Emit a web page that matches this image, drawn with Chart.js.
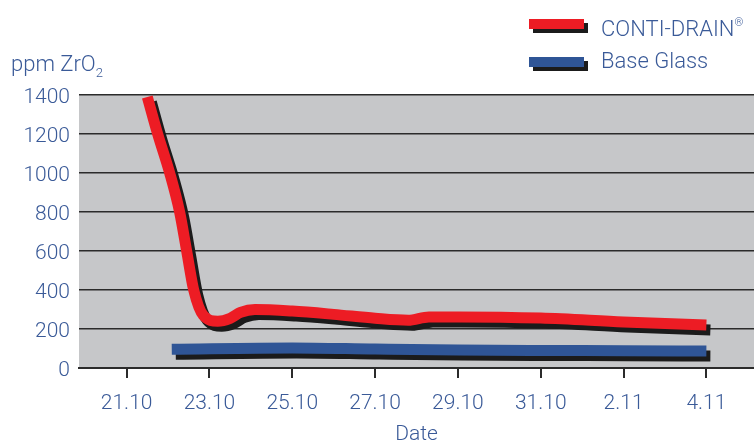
<!DOCTYPE html>
<html>
<head>
<meta charset="utf-8">
<script src="https://cdn.jsdelivr.net/npm/chart.js@4/dist/chart.umd.min.js"></script>
<style>
  body { margin: 0; background: #fff; }
  #wrap { position: relative; width: 754px; height: 443px; font-family: Roboto, "Liberation Sans", sans-serif; font-weight: 300; color: #3a5a98; }
  canvas { position: absolute; left: 0; top: 0; }
  .lbl { position: absolute; font-size: 22px; line-height: 26px; white-space: nowrap; }
  .sw { position: absolute; width: 55px; height: 10px; box-shadow: 4px 4px 0 #1b1b1b; }
  sup { font-size: 11px; vertical-align: 10px; }
  sub { font-size: 13px; vertical-align: -6px; }
</style>
</head>
<body>
<div id="wrap">
  <canvas id="c" width="754" height="443"></canvas>
  <div class="lbl" style="left:11px; top:51px;">ppm ZrO<sub>2</sub></div>
  <div class="sw" style="left:529px; top:19px; background:#ed1c24;"></div>
  <div class="lbl" style="left:601px; top:10px;">CONTI-DRAIN<sup>®</sup></div>
  <div class="sw" style="left:529px; top:57px; background:#2f5596;"></div>
  <div class="lbl" style="left:601px; top:48px;">Base Glass</div>
</div>
<script>
// days counted from 21.10
const tickDays = [0, 2, 4, 6, 8, 10, 12, 14];
const tickLabels = ['21.10', '23.10', '25.10', '27.10', '29.10', '31.10', '2.11', '4.11'];

const contiDays = [0.5, 0.75, 1.04, 1.28, 1.45, 1.62, 1.85, 2.2, 2.5, 2.75, 3.1, 4, 5, 6, 6.8, 7.3, 8, 10, 12, 14];
const contiPpm  = [1390, 1200, 1000, 800, 600, 400, 270, 240, 255, 285, 300, 292, 275, 255, 245, 262, 262, 256, 236, 220];

const baseDays = [1.09, 4, 6, 8, 10, 12, 14];
const basePpm  = [96, 103, 97, 92, 90, 89, 87];

const txtBlue = '#3a5a98';
const fnt = { family: 'Roboto, "Liberation Sans", sans-serif', size: 21, weight: '300' };

const bgPlugin = {
  id: 'bg',
  beforeDraw(chart) {
    const a = chart.chartArea, ctx = chart.ctx;
    ctx.save();
    ctx.fillStyle = '#c6c7c9';
    ctx.fillRect(a.left, a.top, a.right - a.left, a.bottom - a.top);
    ctx.restore();
  }
};

// offset black shadow under each line, like the original artwork
const shadowPlugin = {
  id: 'shadow',
  beforeDatasetDraw(chart) {
    const ctx = chart.ctx;
    ctx.save();
    ctx.shadowColor = '#1b1b1b';
    ctx.shadowOffsetX = 4;
    ctx.shadowOffsetY = 5;
    ctx.shadowBlur = 0;
  },
  afterDatasetDraw(chart) {
    chart.ctx.restore();
  }
};

new Chart(document.getElementById('c'), {
  type: 'line',
  data: {
    datasets: [
      {
        label: 'CONTI-DRAIN',
        data: contiDays.map((d, i) => ({ x: d, y: contiPpm[i] })),
        borderColor: '#ed1c24',
        borderWidth: 11,
        cubicInterpolationMode: 'monotone',
        borderCapStyle: 'butt',
        borderJoinStyle: 'round',
        pointRadius: 0
      },
      {
        label: 'Base Glass',
        data: baseDays.map((d, i) => ({ x: d, y: basePpm[i] })),
        borderColor: '#2f5596',
        borderWidth: 11,
        cubicInterpolationMode: 'monotone',
        borderCapStyle: 'butt',
        pointRadius: 0
      }
    ]
  },
  options: {
    responsive: false,
    animation: false,
    layout: { padding: { top: 95, left: 0, right: 0, bottom: 0 } },
    plugins: { legend: { display: false }, tooltip: { enabled: false } },
    scales: {
      x: {
        type: 'linear',
        min: -1.15,
        max: 15.15,
        afterBuildTicks: s => { s.ticks = tickDays.map(v => ({ value: v })); },
        afterFit: s => { s.height = 75; },
        ticks: {
          color: txtBlue, font: fnt, padding: 13, maxRotation: 0,
          callback: v => tickLabels[tickDays.indexOf(v)]
        },
        grid: { drawOnChartArea: false, color: '#2b2b2b', lineWidth: 2, tickLength: 10 },
        border: { display: true, color: '#2b2b2b', width: 2 },
        title: { display: true, text: 'Date', color: txtBlue, font: fnt, padding: { top: 0, bottom: -4 } }
      },
      y: {
        min: 0,
        max: 1400,
        afterFit: s => { s.width = 79; },
        ticks: { stepSize: 200, color: txtBlue, font: fnt, padding: 9, labelOffset: 3, callback: v => String(v) },
        grid: { color: '#2b2b2b', lineWidth: 1.5, drawTicks: false },
        border: { display: false }
      }
    }
  },
  plugins: [bgPlugin, shadowPlugin]
});
</script>
</body>
</html>
